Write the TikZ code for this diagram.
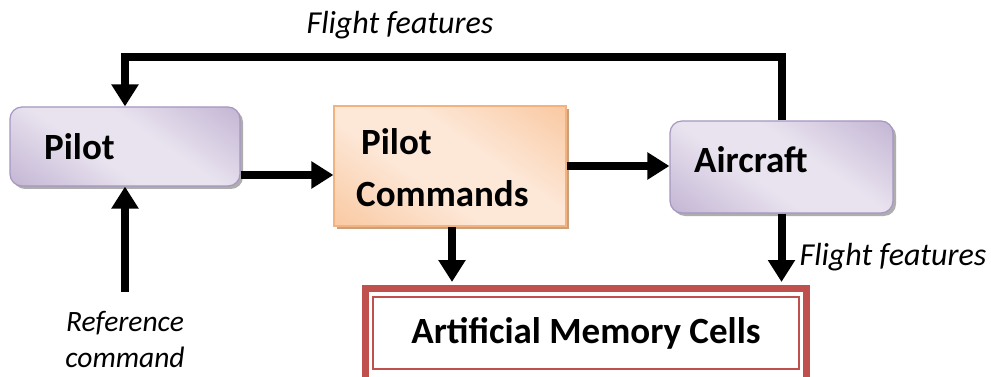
\documentclass[tikz,border=0pt]{standalone}
\usepackage{fontspec}
\setmainfont{Carlito}
\usetikzlibrary{arrows.meta,shadows,calc}

\definecolor{purpdark}{HTML}{AD9BC4}
\definecolor{purplight}{HTML}{E9E3EF}
\definecolor{purpedge}{HTML}{A696C0}
\definecolor{orgdark}{HTML}{F7B783}
\definecolor{orglight}{HTML}{FDE8D8}
\definecolor{orgedge}{HTML}{F4B27E}
\definecolor{orgshadow}{HTML}{C9A07C}
\definecolor{memred}{HTML}{C0504D}

\pgfdeclareverticalshading{purpleband}{100bp}{color(0bp)=(purpdark); color(42bp)=(purplight); color(58bp)=(purplight); color(100bp)=(purpdark)}
\pgfdeclareverticalshading{orangeband}{100bp}{color(0bp)=(orgdark); color(42bp)=(orglight); color(58bp)=(orglight); color(100bp)=(orgdark)}

\tikzset{
  softbox/.style={rounded corners=12pt, draw=purpedge, line width=1.2pt,
    shading=purpleband, shading angle=-35,
    drop shadow={shadow xshift=3pt, shadow yshift=-3pt, fill=black!45, opacity=0.7}},
  cmdbox/.style={draw=orgedge, line width=1.2pt,
    shading=orangeband, shading angle=-35,
    drop shadow={shadow xshift=3pt, shadow yshift=-3pt, fill=orgshadow, opacity=1}},
  boxtext/.style={font=\fontsize{37}{40}\selectfont\bfseries, inner sep=0pt, anchor=west},
  note/.style={font=\fontsize{32}{34}\selectfont\itshape, inner sep=0pt},
  refnote/.style={font=\fontsize{29.5}{32}\selectfont\itshape, inner sep=0pt},
  arr/.style={line width=8pt, -{Triangle[width=26pt,length=22pt]}}
}

\begin{document}
\begin{tikzpicture}[x=1pt,y=-1pt]
  \useasboundingbox (0,0) rectangle (991,377);

  % blocks
  \node[softbox, minimum width=230pt, minimum height=79pt] (pilot) at (125,146.5) {};
  \node[boxtext] (pilottxt) at (44,147) {Pilot};

  \node[cmdbox, minimum width=232pt, minimum height=120pt] (cmds) at (450,166) {};
  \node[boxtext] (cmdtxt1) at (361,142) {Pilot};
  \node[boxtext] (cmdtxt2) at (356,194) {Commands};

  \node[softbox, minimum width=223pt, minimum height=92pt] (craft) at (781.5,167) {};
  \node[boxtext] (crafttxt) at (694,160) {Aircraft};

  % memory block with double red frame
  \node[draw=memred, line width=7pt, fill=white, minimum width=441pt, minimum height=100pt] (mem) at (586,338.5) {};
  \draw[memred, line width=2pt] (373,297) rectangle (799,369);
  \node[font=\fontsize{37}{40}\selectfont\bfseries, inner sep=0pt] (memtxt) at (586,333) {Artificial Memory Cells};

  % helper levels
  \coordinate (toplevel) at (0,57);
  \coordinate (feedlevel) at (0,175);
  \coordinate (refstart) at (125,292);

  % connectors
  \draw[arr] (craft.north) |- (pilot.north |- toplevel) -- (pilot.north);
  \draw[arr] (refstart) -- (pilot.south);
  \draw[arr] (pilot.east |- feedlevel) -- (cmds.west |- feedlevel);
  \draw[arr] (cmds.east) -- (cmds.east -| craft.west);
  \draw[arr] (cmds.south -| 452,0) -- ($(mem.north -| 452,0)+(0,-3)$);
  \draw[arr] (craft.south) -- ($(mem.north -| craft.south)+(0,-3)$);

  % labels
  \node[note] (fftop) at (400,25) {Flight features};
  \node[note] (ffright) at (893,257) {Flight features};
  \node[refnote] (ref1) at (125,323) {Reference};
  \node[refnote] (ref2) at (125,357) {command};
\end{tikzpicture}
\end{document}
